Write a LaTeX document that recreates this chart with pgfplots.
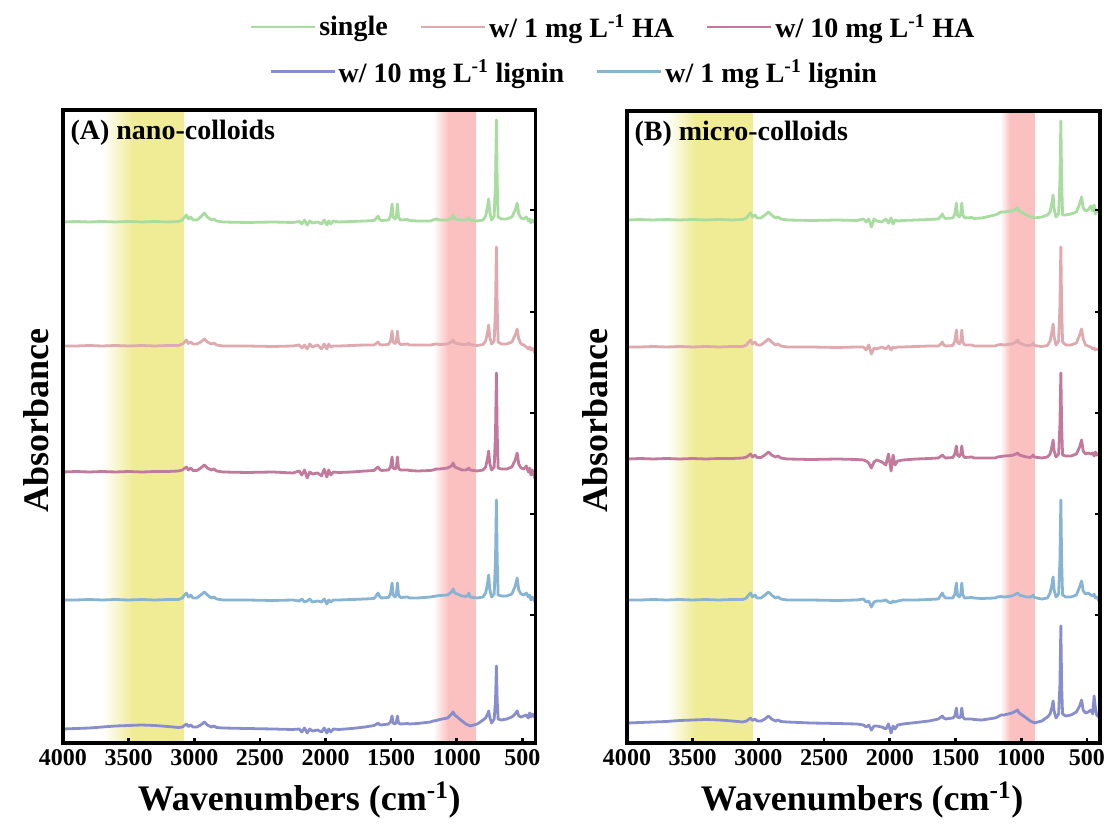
\documentclass[border=0pt]{standalone}
\usepackage{pgfplots}
\pgfplotsset{compat=1.18}
\usepackage{pgfplotstable}
\usepackage{fontspec}
\setmainfont{Liberation Serif}
\definecolor{colG}{RGB}{168,220,160}
\definecolor{colP}{RGB}{222,170,176}
\definecolor{colM}{RGB}{194,122,156}
\definecolor{colB}{RGB}{136,180,212}
\definecolor{colL}{RGB}{136,142,204}
\definecolor{yb}{RGB}{240,236,150}
\definecolor{rb}{RGB}{251,192,192}

\pgfplotstableread{
wn gA pA mA bA lA gB pB mB bB lB
4000 0 0 0 0 0 0 0 0 0 0
3900 0.5 0 0.5 0 0.5 0.5 0 0.5 0 0.5
3800 0 0.5 0 0.5 1 0 0.5 0 0.5 1
3700 0.5 0 0.5 0 2 0.5 0 0.5 0 1.5
3600 0 0.5 0 0.5 3 0 0.5 0 0.5 2.5
3500 0.5 0 0.5 0 3.5 0.5 0 0.5 0 3
3400 0 0.5 0 0.5 4 0 0.5 0 0.5 3.5
3300 0.5 0 0.5 0 3.5 0.5 0 0.5 0 3
3200 0 0.5 0.5 0.5 2.5 0 0.5 0.5 0.5 2
3120 0.5 0.5 1 0.5 1.5 0.5 0.5 1 0.5 1
3090 2 2 2 2 2 2 2 2 2 2
3080 4 3 3 4 3 4 4 3 4 3
3060 7 6 5 7 5 7 7 5 7 5
3045 3 2.5 2 3 2.5 3 3 2 3 2.5
3026 5 4 4 5 4 5 5 4 5 4
3010 2 2 1.5 2 2 2 2 1.5 2 2
2980 2 2 1.5 2 2 2 2 1.5 2 2
2950 5 4 4 5 4 5 5 4 5 4
2923 9 7 7 8 7 8 8 7 8 7
2900 5 4 4 5 4 5 5 4 5 4
2870 2 2 2 2 2 2 2 2 2 2
2850 3 3 3 3 3 3 3 3 3 3
2830 1 1 1 1 1.5 1 1 1 1 1.5
2780 0 0 0 0 1 0 0 0 0 1
2600 -0.5 0 -0.5 0 0.5 -0.5 0 -0.5 0 0
2400 0 -0.5 0 -0.5 0 0 -0.5 0 -0.5 -0.5
2250 -0.5 0 -1 0 -0.5 -0.5 0 -0.5 0 -1
2200 0.5 1 1 -1 0 1 0 -1 1 -2
2180 -2 -2 -3 1 -3 -2 -3 -2 -2 -4
2160 2 1 2 -2 1 1 2 -4 -1 -2
2140 -3 -3 -6 -1 -4 -7 -7 -9 -7 -7
2120 1 2 0 1 0 1 -1 -3 -2 -3
2100 -1 -1 -2 -2 -2 -1 -2 -1 -1 -3
2060 0 1 -1 -1 -1 -2 0 -3 -1 -4
2030 -2 -3 -4 -2 -3 1 -2 -6 0 -6
2010 2 2 3 1 1 -3 1 5 -2 -1
1990 -3 -3 -5 -4 -4 2 -3 -12 -3 -10
1975 1 2 2 0 0 -4 0 4 -1 -3
1960 -2 -1 -3 -2 -3 0 -1 -6 -2 -6
1940 1 0 0 0 0 -1 0 -2 -1 -2
1900 0 0 -0.5 0 -0.5 -0.5 0 -1 0 -1
1800 0.5 0.5 0 0.5 0.5 0 0.5 0 0 0.5
1700 1 1 1 1 2 0.5 1 0.5 0.5 2
1630 1.5 1 1.5 1.5 3.5 1 1 1 1 4
1610 4 3 4 5 5 4 3 3 5 6
1600 6 4 5 7 6 6 5 4 7 7
1590 3 2 3 4 4.5 3 2 2.5 4 5
1575 1.5 1 1.5 2 4 1.5 1 1 2 4
1520 2 1.5 2 2.5 5 2 1.5 1.5 2 5
1505 6 5 5 6 7 6 6 5 6 7
1493 18 15 15 17 13 17 17 13 17 15
1485 5 4 4 5 6 5 5 4 5 6
1470 3 2.5 3 3 5 3 3 2.5 3 5
1460 6 5 5 6 7 6 6 5 6 7
1452 18 15 15 17 13 17 17 13 17 15
1444 5 4 4 5 6 5 5 4 5 6
1430 2 1.5 2 2.5 5 2 2 1.5 2 4
1375 2.5 2 2 3 5.5 2.5 2 2 2.5 4
1360 1.5 1 1.5 2 5 1.5 1 1 2 3.5
1300 1 1 1 2 5.5 2 1 1 1.5 3
1200 1 1 1.5 3 7 5 1 1 2 5
1180 2 1.5 2 3.5 8 6 2 2 3 6
1155 3 2 3 4 8.5 8 2.5 2.5 3.5 8
1130 2 1.5 3 4.5 9.5 8 2 3 3 8
1070 2 2 4 5 11 9 3 3.5 4 10
1040 4 4 6 8 15 11 5 5 6 12
1028 7 6 9 11 17 12 7 6 7 13
1015 3 3 5 7 14 9 4 4 5 10
960 2 1.5 2 4 8 5 1.5 2 3 5
930 2 1.5 2 3.5 5 3 1.5 1.5 3 2
915 3 2 3 5 4 3 3 3 4 1
908 4 3 4 7 4 3 4 4 5 1
900 2 1.5 2 3 3 2 1.5 2 2.5 0
843 1 0.5 1 2 5 3 0.5 1 1 2
800 2 1.5 2 3 9 5 1.5 2 2 6
780 6 5 5 7 11 8 6 5 7 9
765 16 14 14 17 15 18 16 13 16 16
757 23 21 21 25 18 25 23 19 23 22
749 10 9 9 11 12 11 10 8 10 12
735 2 2 2 3 6 3 2 2 3 5
715 6 5 5 6 10 6 6 5 6 9
705 40 38 38 40 28 40 40 34 40 38
698 102 99 99 100 63 99 100 86 100 97
692 40 38 38 40 28 40 40 34 40 38
685 5 4 4 5 10 5 5 4 5 9
660 3 2 3 4 9 5 2 3 3 7
620 3 2 3 4 10 6 2 3 3 8
580 5 4 5 6 12 8 4 5 5 11
555 12 11 12 14 15 16 12 12 13 17
540 19 17 19 22 18 23 18 19 19 23
528 8 7 8 10 13 12 8 8 9 13
510 4 2 4 6 12 9 2 5 6 10
490 3 1 3 5 13 10 1 6 7 11
470 5 -1 6 7 14 14 0 5 5 13
455 1 -3 0 3 11 9 -2 6 4 9
445 3 -1 4 5 16 15 -1 3 6 27
435 -1 -4 -3 0 12 6 -3 7 2 15
425 2 -2 2 3 15 10 -2 4 3 8
402 -1 -7 -7 -2 11 7 -3 6 -2 5
}\spec

\pgfplotsset{
  panel/.style={
    scale only axis,
    xmin=400, xmax=4000, x dir=reverse,
    ymin=0,
    xtick={500,1000,...,4000},
    ytick={128,229,330,431,533},
    yticklabels={},
    xtick pos=lower, ytick pos=right,
    tick align=inside,
    major tick length=4pt,
    axis line style={line width=2.4pt},
    every tick/.style={line width=2pt,black},
    /pgf/number format/assume math mode=true,
    /pgf/number format/1000 sep={},
    xticklabel style={font=\bfseries\fontsize{18}{18}\selectfont, yshift=-1pt},
    xlabel={Wavenumbers (cm\textsuperscript{-1})},
    ylabel={Absorbance},
    label style={font=\bfseries\fontsize{27}{27}\selectfont},
    axis on top,
    legend style={draw=none, fill=none, font=\bfseries\fontsize{21}{21}\selectfont,
      /tikz/every even column/.append style={column sep=22pt}},
    legend cell align=left,
    legend image code/.code={\draw[#1, line width=2pt] (0pt,0pt) -- (48pt,0pt);},
  },
  sp/.style={line width=2.1pt, #1, line join=round},
}

\begin{document}
\begin{tikzpicture}
\useasboundingbox (0,0) rectangle (834pt,620.25pt);
% Panel A
\begin{axis}[panel, at={(47.25pt,63pt)}, anchor=south west,
  width=354.4pt, height=474.75pt, ymax=633,
  xlabel style={at={(axis description cs:0.5,-0.09)}, anchor=center},
  ylabel style={at={(axis description cs:-0.057,0.51)}, anchor=center},
  legend columns=3,
  legend style={at={(1.165,1.131)}, anchor=center}]
\shade[left color=white, right color=yb] (axis cs:3700,0) rectangle (axis cs:3470,633);
\fill[yb] (axis cs:3472,0) rectangle (axis cs:3080,633);
\shade[left color=white, right color=rb] (axis cs:1180,0) rectangle (axis cs:1065,633);
\fill[rb] (axis cs:1067,0) rectangle (axis cs:850,633);
\addplot[sp=colG] table[x=wn, y expr=\thisrow{gA}+521] {\spec};
\addlegendentry{single}
\addplot[sp=colP] table[x=wn, y expr=\thisrow{pA}+397] {\spec};
\addlegendentry{w/ 1 mg L\textsuperscript{-1} HA}
\addplot[sp=colM] table[x=wn, y expr=\thisrow{mA}+271] {\spec};
\addlegendentry{w/ 10 mg L\textsuperscript{-1} HA}
\addplot[sp=colB, forget plot] table[x=wn, y expr=\thisrow{bA}+143] {\spec};
\addplot[sp=colL, forget plot] table[x=wn, y expr=\thisrow{lA}+14] {\spec};
\node[anchor=west, font=\bfseries\fontsize{21}{21}\selectfont] at (axis description cs:0.006,0.964) {(A) nano-colloids};
\end{axis}
% Panel B
\begin{axis}[panel, at={(470.25pt,63pt)}, anchor=south west,
  width=354.75pt, height=474pt, ymax=632,
  xlabel style={at={(axis description cs:0.497,-0.09)}, anchor=center},
  ylabel style={at={(axis description cs:-0.068,0.51)}, anchor=center},
  legend columns=2,
  legend style={at={(-0.111,1.062)}, anchor=center}]
\shade[left color=white, right color=yb] (axis cs:3695,0) rectangle (axis cs:3482,632);
\fill[yb] (axis cs:3484,0) rectangle (axis cs:3040,632);
\shade[left color=white, right color=rb] (axis cs:1160,0) rectangle (axis cs:1085,632);
\fill[rb] (axis cs:1087,0) rectangle (axis cs:895,632);
\addplot[sp=colL] table[x=wn, y expr=\thisrow{lB}+20] {\spec};
\addlegendentry{w/ 10 mg L\textsuperscript{-1} lignin}
\addplot[sp=colB] table[x=wn, y expr=\thisrow{bB}+143] {\spec};
\addlegendentry{w/ 1 mg L\textsuperscript{-1} lignin}
\addplot[sp=colG, forget plot] table[x=wn, y expr=\thisrow{gB}+523] {\spec};
\addplot[sp=colP, forget plot] table[x=wn, y expr=\thisrow{pB}+396] {\spec};
\addplot[sp=colM, forget plot] table[x=wn, y expr=\thisrow{mB}+284] {\spec};
\node[anchor=west, font=\bfseries\fontsize{21}{21}\selectfont] at (axis description cs:0.006,0.964) {(B) micro-colloids};
\end{axis}
\end{tikzpicture}
\end{document}
